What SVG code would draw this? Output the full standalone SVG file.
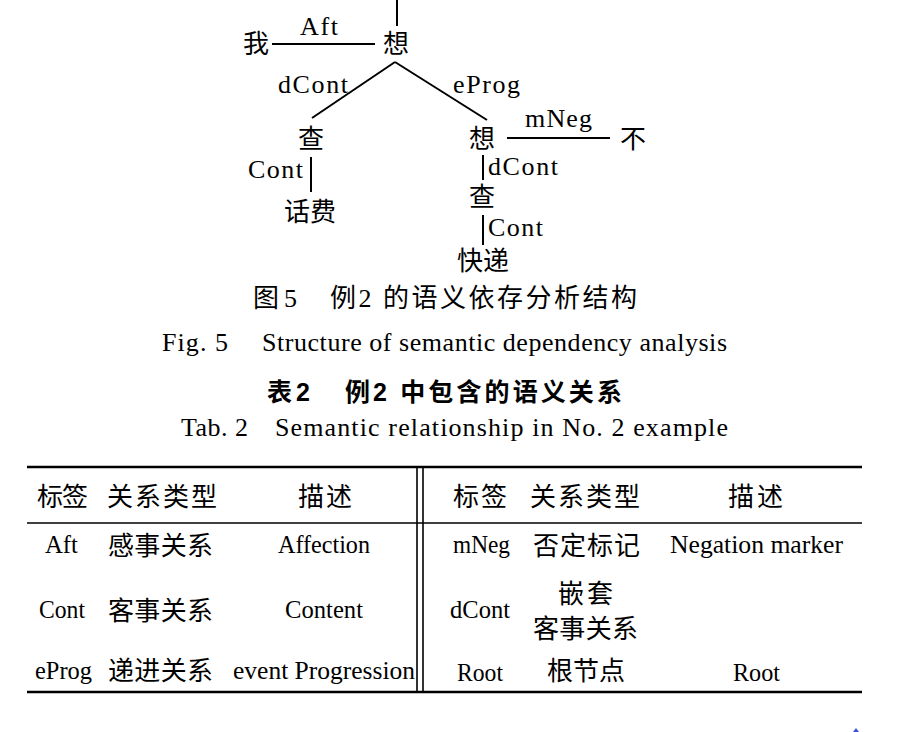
<svg xmlns="http://www.w3.org/2000/svg" width="908" height="732" viewBox="0 0 908 732">
<style>
.bg{fill:#ffffff}
.cjk{font-family:"Liberation Serif","Noto Sans CJK SC",serif;font-size:26px;fill:#000}
.lat{font-family:"Liberation Serif","Noto Sans CJK SC",serif;font-size:26px;fill:#000}
.tl{font-family:"Liberation Serif","Noto Sans CJK SC",serif;font-size:26px;fill:#000}
.hd{font-family:"Liberation Sans","Noto Sans CJK SC",sans-serif;font-size:25px;font-weight:bold;fill:#000}
.edge{stroke:#000;stroke-width:2;fill:none}
.thick{stroke:#000;stroke-width:2.6;fill:none}
.thin{stroke:#000;stroke-width:1.6;fill:none}
</style>
<rect class="bg" x="0" y="0" width="908" height="732"/>

<g id="connectors">
  <line class="edge" x1="397" y1="0" x2="397" y2="26"/>
  <line class="edge" x1="272" y1="44" x2="375" y2="44"/>
  <line class="edge" x1="395" y1="62" x2="312" y2="118"/>
  <line class="edge" x1="395" y1="62" x2="487" y2="120"/>
  <line class="edge" x1="507" y1="138" x2="610" y2="138"/>
  <line class="edge" x1="311" y1="157" x2="311" y2="192"/>
  <line class="edge" x1="483" y1="155" x2="483" y2="180"/>
  <line class="edge" x1="483" y1="215" x2="483" y2="245"/>
  <g id="edge-labels">
    <text class="lat" x="300" y="35" textLength="38" lengthAdjust="spacing">Aft</text>
    <text class="lat" x="278" y="93" textLength="70" lengthAdjust="spacing">dCont</text>
    <text class="lat" x="453" y="93" textLength="67" lengthAdjust="spacing">eProg</text>
    <text class="lat" x="525" y="127" textLength="67" lengthAdjust="spacing">mNeg</text>
    <text class="lat" x="248" y="178" textLength="55" lengthAdjust="spacing">Cont</text>
    <text class="lat" x="488" y="175" textLength="70" lengthAdjust="spacing">dCont</text>
    <text class="lat" x="488" y="236" textLength="55" lengthAdjust="spacing">Cont</text>
  </g>
</g>

<g id="n-wo"><text class="cjk" x="256" y="53" text-anchor="middle">我</text></g>
<g id="n-xiang1"><text class="cjk" x="396" y="53" text-anchor="middle">想</text></g>
<g id="n-cha1"><text class="cjk" x="311" y="148" text-anchor="middle">查</text></g>
<g id="n-xiang2"><text class="cjk" x="482" y="148" text-anchor="middle">想</text></g>
<g id="n-bu"><text class="cjk" x="633" y="148" text-anchor="middle">不</text></g>
<g id="n-huafei"><text class="cjk" x="310" y="221" text-anchor="middle">话费</text></g>
<g id="n-cha2"><text class="cjk" x="482" y="206" text-anchor="middle">查</text></g>
<g id="n-kuaidi"><text class="cjk" x="483" y="270" text-anchor="middle">快递</text></g>

<g id="captions">
  <text class="cjk" x="253" y="307" textLength="44" lengthAdjust="spacing">图5</text>
  <text class="cjk" x="330" y="307" textLength="307" lengthAdjust="spacing">例2 的语义依存分析结构</text>
  <text class="lat" x="162" y="351" textLength="66" lengthAdjust="spacing">Fig. 5</text>
  <text class="lat" x="262" y="351" textLength="465" lengthAdjust="spacing">Structure of semantic dependency analysis</text>
  <text class="hd" x="267" y="401" textLength="43" lengthAdjust="spacing">表2</text>
  <text class="hd" x="345" y="401" textLength="277" lengthAdjust="spacing">例2 中包含的语义关系</text>
  <text class="lat" x="181" y="436" textLength="67" lengthAdjust="spacing">Tab. 2</text>
  <text class="lat" x="275" y="436" textLength="453" lengthAdjust="spacing">Semantic relationship in No. 2 example</text>
</g>

<g id="table">
  <line class="thick" x1="27" y1="467" x2="862" y2="467"/>
  <line class="thin" x1="27" y1="523" x2="862" y2="523"/>
  <line class="thick" x1="27" y1="692" x2="862" y2="692"/>
  <line class="thin" x1="417" y1="467" x2="417" y2="692"/>
  <line class="thin" x1="423" y1="467" x2="423" y2="692"/>

  <text class="cjk" x="37" y="506" textLength="51" lengthAdjust="spacing">标签</text>
  <text class="cjk" x="107" y="506" textLength="110" lengthAdjust="spacing">关系类型</text>
  <text class="cjk" x="298" y="506" textLength="54" lengthAdjust="spacing">描述</text>
  <text class="cjk" x="453" y="506" textLength="54" lengthAdjust="spacing">标签</text>
  <text class="cjk" x="530" y="506" textLength="110" lengthAdjust="spacing">关系类型</text>
  <text class="cjk" x="728" y="506" textLength="55" lengthAdjust="spacing">描述</text>

  <text class="tl" x="45" y="553" textLength="33" lengthAdjust="spacingAndGlyphs">Aft</text>
  <text class="cjk" x="108" y="555" textLength="105" lengthAdjust="spacing">感事关系</text>
  <text class="tl" x="278" y="553" textLength="92" lengthAdjust="spacingAndGlyphs">Affection</text>
  <text class="tl" x="453" y="553" textLength="57" lengthAdjust="spacingAndGlyphs">mNeg</text>
  <text class="cjk" x="533" y="555" textLength="107" lengthAdjust="spacing">否定标记</text>
  <text class="tl" x="670" y="553" textLength="173" lengthAdjust="spacingAndGlyphs">Negation marker</text>

  <text class="tl" x="39" y="618" textLength="46" lengthAdjust="spacingAndGlyphs">Cont</text>
  <text class="cjk" x="108" y="620" textLength="105" lengthAdjust="spacing">客事关系</text>
  <text class="tl" x="285" y="618" textLength="78" lengthAdjust="spacingAndGlyphs">Content</text>
  <text class="tl" x="450" y="618" textLength="60" lengthAdjust="spacingAndGlyphs">dCont</text>
  <text class="cjk" x="558" y="603" textLength="55" lengthAdjust="spacing">嵌套</text>
  <text class="cjk" x="533" y="638" textLength="105" lengthAdjust="spacing">客事关系</text>

  <text class="tl" x="35" y="679" textLength="57" lengthAdjust="spacingAndGlyphs">eProg</text>
  <text class="cjk" x="108" y="680" textLength="105" lengthAdjust="spacing">递进关系</text>
  <text class="tl" x="233" y="679" textLength="182" lengthAdjust="spacingAndGlyphs">event Progression</text>
  <text class="tl" x="457" y="681" textLength="46" lengthAdjust="spacingAndGlyphs">Root</text>
  <text class="cjk" x="547" y="680" textLength="78" lengthAdjust="spacing">根节点</text>
  <text class="tl" x="733" y="681" textLength="47" lengthAdjust="spacingAndGlyphs">Root</text>
</g>

<polygon points="853,732 856,728 859,732" fill="#3f4fd8"/>
</svg>
